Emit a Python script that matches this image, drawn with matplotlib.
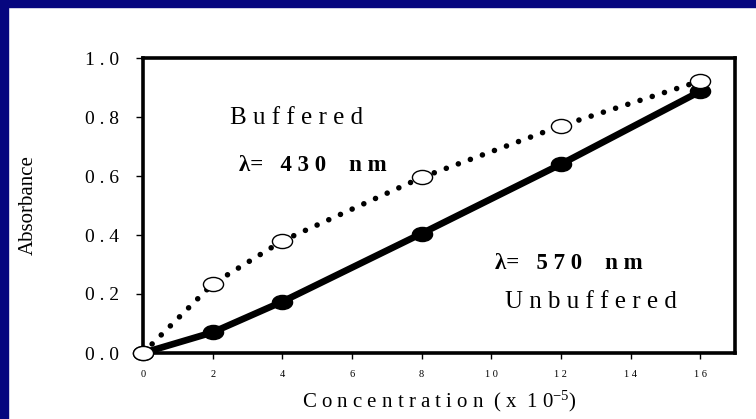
import matplotlib
matplotlib.use("Agg")
import matplotlib.pyplot as plt
from matplotlib.path import Path
from matplotlib.patches import Rectangle
from matplotlib.markers import MarkerStyle
import matplotlib.transforms as mtransforms

plt.rcParams['font.family'] = ['Liberation Serif', 'DejaVu Serif']
plt.rcParams['mathtext.fontset'] = 'custom'
plt.rcParams['mathtext.rm'] = 'Liberation Serif'
plt.rcParams['mathtext.it'] = 'Liberation Serif:italic'

# data
concentration = [0, 2, 4, 8, 12, 16]
buffered = [0.0, 0.234, 0.38, 0.595, 0.77, 0.922]
unbuffered = [0.0, 0.07, 0.174, 0.405, 0.64, 0.887]

x_ticks = [0, 2, 4, 6, 8, 10, 12, 14, 16]
y_ticks = [0.0, 0.2, 0.4, 0.6, 0.8, 1.0]


def spaced(s):
    return " ".join(s)


# slightly flattened circles like the original slide
ellipse = Path.unit_circle().transformed(mtransforms.Affine2D().scale(1.0, 0.7))

fig = plt.figure(figsize=(7.56, 4.19), dpi=100)
ax = fig.add_axes([143 / 756, 1 - 353 / 419, (735 - 143) / 756, (353 - 58) / 419])

ax.plot(concentration, unbuffered, color="black", lw=4.8, solid_capstyle="round",
        marker=MarkerStyle(ellipse), markersize=14.5, markerfacecolor="black",
        markeredgecolor="black", clip_on=False, zorder=3)
ax.plot(concentration, buffered, color="black", lw=4.0, linestyle=(0, (0.01, 2.3)),
        dash_capstyle="round", marker=MarkerStyle(ellipse), markersize=14.5,
        markerfacecolor="white", markeredgecolor="black", markeredgewidth=1.0,
        clip_on=False, zorder=4)

ax.set_xlim(0, 17)
ax.set_ylim(0, 1.0)
ax.set_xticks(x_ticks)
ax.set_xticklabels([spaced(str(v)) for v in x_ticks], fontsize=7.5)
ax.set_yticks(y_ticks)
ax.set_yticklabels([spaced("%.1f" % v) for v in y_ticks], fontsize=14)
ax.tick_params(axis="x", direction="out", length=4, width=1, pad=8)
ax.tick_params(axis="y", direction="out", length=5, width=1, pad=12)
for sp in ax.spines.values():
    sp.set_linewidth(2.6)

ax.set_ylabel("Absorbance", fontsize=15, labelpad=0)
ax.yaxis.set_label_coords(-0.178, 0.5)
ax.set_xlabel(spaced("Concentration") + "  ( x  1 0$^{-5}$)", fontsize=15, labelpad=7)

ax.text(230, 118, spaced("Buffered"), fontsize=18, ha="left", va="center")
ax.text(239, 165, "λ=   4 3 0    n m", fontsize=16.5, fontweight="bold", ha="left",
        va="center")
ax.text(495, 263, "λ=   5 7 0    n m", fontsize=16.5, fontweight="bold", ha="left",
        va="center")
ax.text(505, 302, spaced("Unbuffered"), fontsize=18, ha="left", va="center")

# text positions above are pixels from the top-left corner
for t in ax.texts:
    x, y = t.get_position()
    t.set_transform(fig.transFigure)
    t.set_position((x / 756, 1 - y / 419))

# dark blue slide frame on the left and top
fig.patches.append(Rectangle((0, 0), 8 / 756, 1, transform=fig.transFigure,
                             color="#06067f", zorder=0))
fig.patches.append(Rectangle((0, 1 - 7 / 419), 1, 7 / 419, transform=fig.transFigure,
                             color="#06067f", zorder=0))

fig.savefig("out.png", dpi=100)
